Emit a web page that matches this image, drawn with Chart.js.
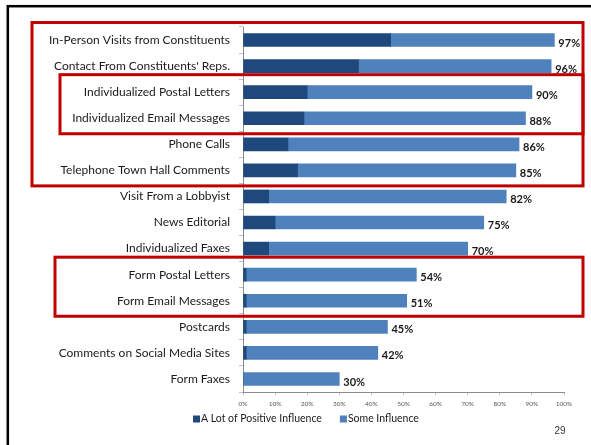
<!DOCTYPE html>
<html>
<head>
<meta charset="utf-8">
<script src="https://cdn.jsdelivr.net/npm/chart.js@4.4.0/dist/chart.umd.min.js"></script>
<style>
  html, body { margin: 0; padding: 0; background: #fff; }
  #wrap { width: 591px; height: 445px; position: relative; }
</style>
</head>
<body>
<div id="wrap"><canvas id="influenceChart"></canvas></div>
<script>
var categories = [
  "In-Person Visits from Constituents",
  "Contact From Constituents' Reps.",
  "Individualized Postal Letters",
  "Individualized Email Messages",
  "Phone Calls",
  "Telephone Town Hall Comments",
  "Visit From a Lobbyist",
  "News Editorial",
  "Individualized Faxes",
  "Form Postal Letters",
  "Form Email Messages",
  "Postcards",
  "Comments on Social Media Sites",
  "Form Faxes",
];
// total share with any positive influence (the % labels)
var totals = [97, 96, 90, 88, 86, 85, 82, 75, 70, 54, 51, 45, 42, 30];
// "A Lot of Positive Influence" part of each total
var aLot = [46, 36, 20, 19, 14, 17, 8, 10, 8, 1, 1, 1, 1, 0];
var someInfluence = totals.map(function (t, i) { return t - aLot[i]; });
var xTicks = [0, 10, 20, 30, 40, 50, 60, 70, 80, 90, 100];

// red boxes around groups of rows: [first row, last row, left x]
var groupBoxes = [
  [0, 5, 32],
  [2, 3, 60],
  [9, 10, 55],
];

var LABEL_FONT = "Lato, 'Open Sans', sans-serif";

var decorations = {
  id: "decorations",
  afterDatasetsDraw: function (chart) {
    var ctx = chart.ctx;
    var xs = chart.scales.x, ys = chart.scales.y;
    ctx.save();
    // value labels at the end of each stacked bar
    ctx.font = "bold 11px " + LABEL_FONT;
    ctx.fillStyle = "#1a1a1a";
    ctx.textAlign = "left";
    ctx.textBaseline = "middle";
    totals.forEach(function (t, i) {
      ctx.fillText(t + "%", xs.getPixelForValue(t) + 4, ys.getPixelForValue(i) + 3);
    });
    ctx.restore();
  },
  afterDraw: function (chart) {
    var ctx = chart.ctx;
    var ys = chart.scales.y;
    ctx.save();
    ctx.strokeStyle = "#c00000";
    ctx.lineWidth = 3;
    groupBoxes.forEach(function (b) {
      var top = ys.getPixelForValue(b[0]) - 17.5;
      var bottom = ys.getPixelForValue(b[1]) + 15.5;
      ctx.strokeRect(b[2], top, 583 - b[2], bottom - top);
    });

    // legend row under the axis
    ctx.font = "10.5px " + LABEL_FONT;
    ctx.textAlign = "left";
    ctx.textBaseline = "middle";
    var lx = 193, ly = 419;
    chart.data.datasets.forEach(function (ds) {
      ctx.fillStyle = ds.backgroundColor;
      ctx.fillRect(lx, ly - 3.5, 7, 7);
      ctx.fillStyle = "#1a1a1a";
      ctx.fillText(ds.label, lx + 8, ly);
      lx += 8 + ctx.measureText(ds.label).width + 18;
    });

    // slide frame
    ctx.strokeStyle = "#000";
    ctx.lineWidth = 2.5;
    ctx.strokeRect(7.8, 6.2, 700, 600);
    // page number
    ctx.fillStyle = "#333";
    ctx.font = "10px 'Liberation Sans', Arial, sans-serif";
    ctx.textAlign = "center";
    ctx.fillText("29", 560, 431);
    ctx.restore();
  },
};

var ctx = document.getElementById("influenceChart");
var influenceChart = new Chart(ctx, {
  type: "bar",
  data: {
    labels: categories,
    datasets: [
      {
        label: "A Lot of Positive Influence",
        data: aLot,
        backgroundColor: "rgb(31, 73, 125)",
        barThickness: 13,
      },
      {
        label: "Some Influence",
        data: someInfluence,
        backgroundColor: "rgb(79, 129, 189)",
        barThickness: 13,
      },
    ],
  },
  options: {
    indexAxis: "y",
    responsive: true,
    maintainAspectRatio: false,
    animation: false,
    layout: {
      padding: { left: 40, right: 27, top: 27, bottom: 35 },
    },
    scales: {
      y: {
        stacked: true,
        afterFit: function (scale) { scale.width = 203; },
        grid: {
          drawOnChartArea: false,
          color: "#bfbfbf",
          tickLength: 4,
        },
        border: { color: "#8c8c8c" },
        ticks: {
          autoSkip: false,
          padding: 9,
          color: "#1a1a1a",
          font: { family: LABEL_FONT, size: 12 },
        },
      },
      x: {
        stacked: true,
        min: 0,
        max: 100,
        afterBuildTicks: function (scale) {
          scale.ticks = xTicks.map(function (v) { return { value: v }; });
        },
        afterFit: function (scale) { scale.height = 18; },
        grid: {
          drawOnChartArea: false,
          color: "#bfbfbf",
          tickLength: 3,
        },
        border: { color: "#8c8c8c" },
        ticks: {
          padding: 5,
          color: "#595959",
          font: { family: LABEL_FONT, size: 6.5 },
          callback: function (v) { return v + "%"; },
        },
      },
    },
    plugins: {
      legend: { display: false },
      tooltip: { enabled: false },
    },
  },
  plugins: [decorations],
});
</script>
</body>
</html>
